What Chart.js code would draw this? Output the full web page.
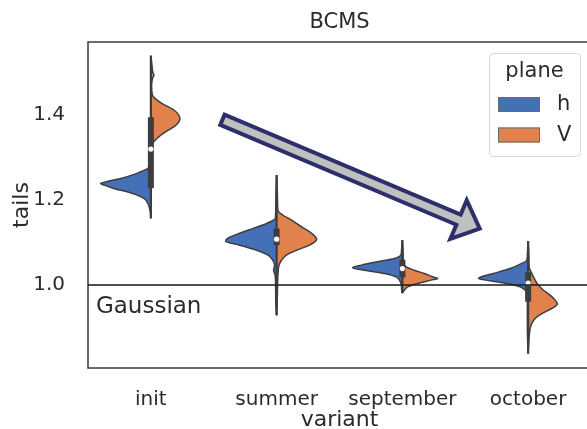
<!DOCTYPE html>
<html><head><meta charset="utf-8">
<script src="https://cdn.jsdelivr.net/npm/chart.js@4.4.1/dist/chart.umd.min.js"></script>
<style>
html,body{margin:0;padding:0;background:#fff;overflow:hidden;width:587px;height:429px;}
#wrap{position:relative;width:600px;height:433px;}
</style></head><body>
<div id="wrap"><canvas id="c" width="600" height="433"></canvas></div>
<script>
const categories = ['init', 'summer', 'september', 'october'];
const hues = ['h', 'V'];
const yTicks = [1.0, 1.2, 1.4];
const gaussianLevel = 1.0;
const gaussianLabel = 'Gaussian';
const chartTitle = 'BCMS';
const legendTitle = 'plane';

// violin half profiles: [tails value, half width (category units)]
const initH = [[1.157,0],[1.175,0.006],[1.192,0.024],[1.204,0.056],[1.216,0.151],[1.2275,0.294],[1.234,0.36],[1.239,0.4],[1.245,0.33],[1.251,0.239],[1.263,0.111],[1.2745,0.024],[1.285,0.006],[1.30,0]];
const initV = [[1.30,0],[1.32,0.006],[1.333,0.014],[1.345,0.048],[1.361,0.119],[1.376,0.199],[1.392,0.231],[1.412,0.183],[1.4275,0.087],[1.443,0.02],[1.455,0.008],[1.47,0.006],[1.487,0.014],[1.494,0.024],[1.50,0.016],[1.52,0.008],[1.54,0]];
const summerH = [[0.929,0],[0.96,0.007],[1.0,0.008],[1.0235,0.012],[1.035,0.024],[1.047,0.016],[1.059,0.032],[1.071,0.072],[1.082,0.159],[1.094,0.294],[1.1035,0.406],[1.110,0.39],[1.122,0.294],[1.133,0.191],[1.145,0.08],[1.157,0.01],[1.2,0.006],[1.259,0]];
const summerV = [[0.929,0],[0.98,0.006],[1.043,0.016],[1.059,0.04],[1.071,0.08],[1.082,0.159],[1.094,0.262],[1.108,0.318],[1.122,0.278],[1.137,0.199],[1.153,0.119],[1.165,0.048],[1.176,0.01],[1.2,0.007],[1.259,0]];
const septemberH = [[0.981,0],[0.99,0.006],[1.0,0.008],[1.012,0.024],[1.0196,0.05],[1.0275,0.143],[1.035,0.302],[1.041,0.396],[1.047,0.326],[1.055,0.197],[1.0628,0.064],[1.0706,0.012],[1.08,0.007],[1.106,0]];
const septemberV = [[0.981,0],[0.988,0.016],[0.996,0.042],[1.004,0.122],[1.0118,0.228],[1.0157,0.281],[1.0196,0.24],[1.0275,0.175],[1.035,0.095],[1.043,0.03],[1.051,0.008],[1.07,0.006],[1.106,0]];
const octoberH = [[0.839,0],[0.9,0.006],[0.96,0.006],[0.98,0.008],[0.988,0.024],[0.996,0.064],[1.004,0.17],[1.0102,0.302],[1.0157,0.395],[1.0196,0.369],[1.0275,0.276],[1.039,0.143],[1.051,0.05],[1.0588,0.01],[1.07,0.006],[1.1035,0]];
const octoberV = [[0.839,0],[0.87,0.006],[0.898,0.016],[0.91,0.029],[0.9216,0.056],[0.933,0.109],[0.945,0.188],[0.9553,0.233],[0.9647,0.215],[0.9765,0.175],[0.988,0.122],[1.0,0.082],[1.0118,0.056],[1.0275,0.029],[1.043,0.008],[1.07,0.006],[1.1035,0]];

const profilesH = [initH, summerH, septemberH, octoberH];
const profilesV = [initV, summerV, septemberV, octoberV];

// inner box statistics per variant
const boxMin = [1.157, 0.929, 0.981, 0.839];
const boxQ1 = [1.228, 1.094, 1.018, 0.961];
const boxMedian = [1.32, 1.108, 1.039, 1.005];
const boxQ3 = [1.395, 1.133, 1.060, 1.030];
const boxMax = [1.54, 1.259, 1.106, 1.1035];

// annotation arrow (data coordinates: variant index, tails)
const arrowFrom = [0.569, 1.389];
const arrowTo = [2.615, 1.133];
const gaussianPos = [-0.437, 0.948];

const FONT = '"DejaVu Sans", "Liberation Sans", sans-serif';
const TXT = '#2b2b2b';
const EDGE = '#3d3d3d';
const COLORS = {h: '#4470b8', V: '#e1824c'};

const datasets = [];
categories.forEach((c, i) => {
  [[profilesH[i], -1, 'h'], [profilesV[i], 1, 'V']].forEach(([prof, side, hue]) => {
    datasets.push({
      data: prof.map(([v, w]) => ({x: i + side * w, y: v})),
      borderColor: EDGE, borderWidth: 1.5, backgroundColor: COLORS[hue],
      fill: 'shape', pointRadius: 0, cubicInterpolationMode: 'monotone', order: 6
    });
  });
  datasets.push({
    data: [{x: i, y: boxMin[i]}, {x: i, y: boxMax[i]}],
    borderColor: EDGE, borderWidth: 2.2, pointRadius: 0, fill: false, order: 4
  });
  datasets.push({
    data: [{x: i, y: boxQ1[i]}, {x: i, y: boxQ3[i]}],
    borderColor: EDGE, borderWidth: 6, borderCapStyle: 'butt', pointRadius: 0, fill: false, order: 3
  });
});
datasets.push({
  data: categories.map((c, i) => ({x: i, y: boxMedian[i]})),
  showLine: false, pointRadius: 2.6, pointBackgroundColor: '#ffffff', pointBorderWidth: 0, order: 2
});
datasets.push({
  data: [{x: -0.5, y: gaussianLevel}, {x: 3.5, y: gaussianLevel}],
  borderColor: 'rgba(35,35,35,0.8)', borderWidth: 2, pointRadius: 0, fill: false, order: 1
});

const decor = {
  id: 'decor',
  beforeDatasetsDraw(chart) {
    const {ctx, chartArea: a} = chart;
    ctx.save();
    ctx.strokeStyle = '#3a3a3a'; ctx.lineWidth = 1.5;
    ctx.strokeRect(a.left, a.top, a.right - a.left, a.bottom - a.top);
    ctx.restore();
  },
  afterDatasetsDraw(chart) {
    const {ctx, scales: {x, y}} = chart;
    const tx = x.getPixelForValue(arrowFrom[0]), ty = y.getPixelForValue(arrowFrom[1]);
    const px = x.getPixelForValue(arrowTo[0]), py = y.getPixelForValue(arrowTo[1]);
    const L = Math.hypot(px - tx, py - ty);
    const dx = (px - tx) / L, dy = (py - ty) / L;
    const nx = -dy, ny = dx;
    const hw = 5.5, headW = 21, headL = 23;
    const bx = px - dx * headL, by = py - dy * headL;
    const pts = [
      [tx + nx * hw, ty + ny * hw], [bx + nx * hw, by + ny * hw], [bx + nx * headW, by + ny * headW],
      [px, py], [bx - nx * headW, by - ny * headW], [bx - nx * hw, by - ny * hw], [tx - nx * hw, ty - ny * hw]
    ];
    ctx.save();
    ctx.beginPath();
    pts.forEach((p, k) => k ? ctx.lineTo(p[0], p[1]) : ctx.moveTo(p[0], p[1]));
    ctx.closePath();
    ctx.fillStyle = '#c0c0c0'; ctx.fill();
    ctx.lineJoin = 'miter'; ctx.miterLimit = 10;
    ctx.strokeStyle = '#2d2e6c'; ctx.lineWidth = 4; ctx.stroke();
    ctx.fillStyle = TXT; ctx.font = '23px ' + FONT;
    ctx.textAlign = 'left'; ctx.textBaseline = 'middle';
    ctx.fillText(gaussianLabel, x.getPixelForValue(gaussianPos[0]), y.getPixelForValue(gaussianPos[1]));
    ctx.restore();
  },
  afterDraw(chart) {
    const {ctx, chartArea: a} = chart;
    ctx.save();
    ctx.fillStyle = TXT; ctx.textBaseline = 'middle'; ctx.textAlign = 'center';
    ctx.font = '21px ' + FONT;
    ctx.fillText(chartTitle, (a.left + a.right) / 2, a.top - 19);
    const L = a.right - 102, T = a.top + 11, W = 91, H = 103;
    ctx.beginPath();
    if (ctx.roundRect) ctx.roundRect(L + 0.5, T + 0.5, W, H, 4); else ctx.rect(L + 0.5, T + 0.5, W, H);
    ctx.fillStyle = 'rgba(255,255,255,0.85)'; ctx.fill();
    ctx.strokeStyle = '#d6d6d6'; ctx.lineWidth = 1; ctx.stroke();
    ctx.fillStyle = TXT; ctx.font = '21px ' + FONT; ctx.textAlign = 'center';
    ctx.fillText(legendTitle, L + W / 2, T + 19);
    hues.forEach((hname, k) => {
      const ry = T + 44 + k * 30.5;
      ctx.fillStyle = COLORS[hname];
      ctx.fillRect(L + 9, ry, 42, 15);
      ctx.strokeStyle = '#6a6a6a'; ctx.lineWidth = 1;
      ctx.strokeRect(L + 9.5, ry + 0.5, 41, 14);
      ctx.fillStyle = TXT; ctx.textAlign = 'left';
      ctx.fillText(hname, L + 68, ry + 8);
    });
    ctx.restore();
  }
};

new Chart(document.getElementById('c'), {
  type: 'line',
  data: {datasets},
  options: {
    responsive: false, animation: false, events: [], indexAxis: 'y', devicePixelRatio: 1,
    layout: {padding: {top: 42, right: 9, left: 0, bottom: 0}},
    plugins: {legend: {display: false}, tooltip: {enabled: false}, title: {display: false}},
    scales: {
      x: {
        type: 'linear', min: -0.5, max: 3.5,
        grid: {display: false}, border: {display: false},
        afterBuildTicks: s => { s.ticks = categories.map((c, i) => ({value: i})); },
        ticks: {callback: v => categories[v], font: {family: FONT, size: 20}, color: TXT, padding: 12, maxRotation: 0, autoSkip: false},
        title: {display: true, text: 'variant', font: {family: FONT, size: 22}, color: TXT, padding: 0},
        afterFit: s => { s.height = 65; }
      },
      y: {
        type: 'linear', min: 0.805, max: 1.572,
        grid: {display: false}, border: {display: false},
        afterBuildTicks: s => { s.ticks = yTicks.map(v => ({value: v})); },
        ticks: {callback: v => Number(v).toFixed(1), font: {family: FONT, size: 20}, color: TXT, padding: 15},
        title: {display: true, text: 'tails', font: {family: FONT, size: 22}, color: TXT, padding: {top: 9, bottom: 0}},
        afterFit: s => { s.width = 88; }
      }
    }
  },
  plugins: [decor]
});
</script>
</body></html>
